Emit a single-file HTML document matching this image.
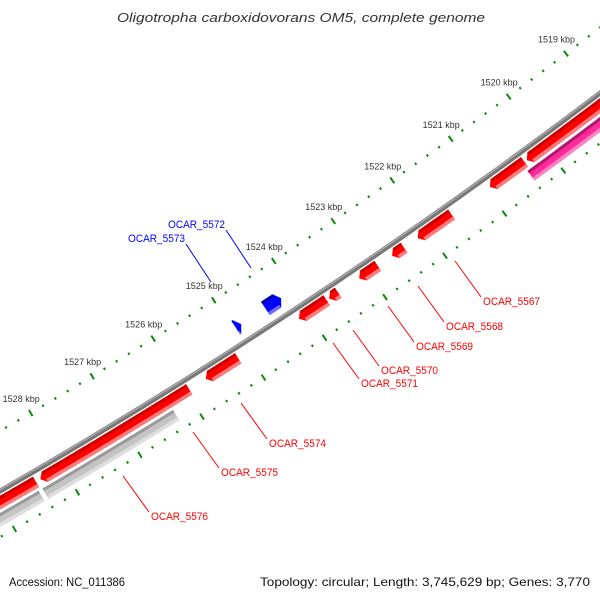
<!DOCTYPE html>
<html><head><meta charset="utf-8"><style>
html,body{margin:0;padding:0;background:#fff;}
svg{display:block;font-family:"Liberation Sans",sans-serif;}
</style></head><body>
<svg id="map" width="600" height="600" viewBox="0 0 600 600" xmlns="http://www.w3.org/2000/svg">
<rect x="0" y="0" width="600" height="600" fill="#fff"/>
<text x="117" y="22" textLength="368" lengthAdjust="spacingAndGlyphs" font-size="13" font-style="italic" fill="#333">Oligotropha carboxidovorans OM5, complete genome</text>
<g id="ticks"></g>
<g id="backbone"></g>
<g id="features"></g>
<g id="labels"></g>
<text x="9" y="586" textLength="116" lengthAdjust="spacingAndGlyphs" font-size="12" fill="#111">Accession: NC_011386</text>
<text x="260" y="586" textLength="330" lengthAdjust="spacingAndGlyphs" font-size="12" fill="#111">Topology: circular; Length: 3,745,629 bp; Genes: 3,770</text>
</svg>
<script>
// data
const kbpTicks = [1519,1520,1521,1522,1523,1524,1525,1526,1527,1528];
const featStart = [1528.42,1525.95,1525.15,1523.69,1523.50,1522.84,1522.40,1521.60,1520.36,1517.0,1526.29,1528.45,1517.0,1524.20,1524.86];
const featEnd   = [1531.0,1528.35,1525.68,1524.15,1523.65,1523.15,1522.60,1522.17,1520.95,1520.32,1528.39,1531.0,1520.40,1524.46,1524.95];
const featStrand= [1,1,1,1,1,1,1,1,1,1,0,0,0,-1,-1];
const featType  = ['red','red','red','red','red','red','red','red','red','red','gray','gray','pink','blue','blue'];
const labelNames = ['OCAR_5567','OCAR_5568','OCAR_5569','OCAR_5570','OCAR_5571','OCAR_5574','OCAR_5575','OCAR_5576','OCAR_5572','OCAR_5573'];
const labelSide  = [1,1,1,1,1,1,1,1,-1,-1];
const labelAnchorX = [455,418,388,353,333,241,193,123,251,211];
const labelAnchorY = [261,286,306,330,343,403,432,476,268,282];

// geometry
const CX=-2782, CY=-4354, R0=5587;
function ang(k){return (56.49+(k-1524)*0.742)*Math.PI/180;}
function pt(k,r){const a=ang(k);return [CX+r*Math.cos(a),CY+r*Math.sin(a)];}
const NS='http://www.w3.org/2000/svg';
function mk(tag,attrs,parent){const e=document.createElementNS(NS,tag);for(const k in attrs)e.setAttribute(k,attrs[k]);parent.appendChild(e);return e;}
function arcPts(k1,k2,r){const n=Math.max(2,Math.ceil(Math.abs(k2-k1)*20));const out=[];for(let i=0;i<=n;i++){out.push(pt(k1+(k2-k1)*i/n,r));}return out;}
function ptsStr(a){return a.map(p=>p[0].toFixed(2)+','+p[1].toFixed(2)).join(' ');}

// ticks
const tg=document.getElementById('ticks');
const tickRows=[5535,5627];
for(const r of tickRows){
  for(let i=0;i<=70;i++){
    const k=1517+i*0.2;
    const major=Math.abs(k-Math.round(k))<1e-6;
    const h=major?3.5:1.2;
    const a=pt(k,r-h),b=pt(k,r+h);
    const t=mk('line',{x1:a[0],y1:a[1],x2:b[0],y2:b[1],stroke:'#0a8a0a','stroke-width':2},tg);
    
    
  }
}
for(const k of kbpTicks){
  const p=pt(k,5535);
  const t=mk('text',{x:p[0]+9,y:p[1]-11,'text-anchor':'end','font-size':'9',fill:'#333'},tg);
  t.textContent=k+' kbp';
  
  
}

// backbone
const bg=document.getElementById('backbone');
const b1=mk('polyline',{points:ptsStr(arcPts(1516,1531,R0)),fill:'none',stroke:'#777','stroke-width':5},bg);


const b2=mk('polyline',{points:ptsStr(arcPts(1516,1531,R0-1.2)),fill:'none',stroke:'#a8a8a8','stroke-width':1.5},bg);



// features
const fg=document.getElementById('features');
const colors={red:['#ff0000','#c80000','#ff7a7a'],blue:['#0000ff','#0000b0','#7070ff'],gray:['#c4c4c4','#9a9a9a','#dedede'],pink:['#ff2a9a','#b01870','#ff80c4']};
function featPoly(s,e,r1,r2,strand){
  const ah=0.07;let pts=[];
  if(strand===1){
    const e2=Math.max(s,e-ah);
    pts=arcPts(s,e2,r1).concat([pt(e,(r1+r2)/2)]).concat(arcPts(e2,s,r2));
  }else if(strand===-1){
    const s2=Math.min(e,s+ah);
    pts=[pt(s,(r1+r2)/2)].concat(arcPts(s2,e,r1)).concat(arcPts(e,s2,r2));
  }else{
    pts=arcPts(s,e,r1).concat(arcPts(e,s,r2));
  }
  return pts;
}
for(let i=0;i<featStart.length;i++){
  let r1,r2;
  if(featStrand[i]===1){r1=R0+4;r2=R0+16;}
  else if(featStrand[i]===-1){r1=R0-25;r2=R0-9;}
  else{r1=R0+19;r2=R0+31;}
  const c=colors[featType[i]];
  const g=mk('g',{},fg);
  
  
  const main=mk('polygon',{points:ptsStr(featPoly(featStart[i],featEnd[i],r1,r2,featStrand[i])),fill:c[0]},g);
  
  
  const dS=featStrand[i]===-1?featStart[i]+0.07:featStart[i];
  const dE=featStrand[i]===1?featEnd[i]-0.07:featEnd[i];
  const dark=mk('polygon',{points:ptsStr(featPoly(dS,dE,r1,r1+3,0)),fill:c[1]},g);
  
  
  const light=mk('polygon',{points:ptsStr(featPoly(dS,dE,r2-3.5,r2,0)),fill:c[2]},g);
  
  
}

// labels
const lg=document.getElementById('labels');
for(let i=0;i<labelNames.length;i++){
  const x1=labelAnchorX[i],y1=labelAnchorY[i];
  const col=labelSide[i]===1?'#ff0000':'#0000ff';
  let x2,y2,tx,ty,anchor;
  if(labelSide[i]===1){x2=x1+26;y2=y1+36;tx=x2+2;ty=y2+8;anchor='start';}
  else{x2=x1-25;y2=y1-38;tx=x2-1;ty=y2-2;anchor='end';}
  const ln=mk('line',{x1:x1,y1:y1,x2:x2,y2:y2,stroke:col,'stroke-width':1},lg);
  
  
  const t=mk('text',{x:tx,y:ty,'text-anchor':anchor,'font-size':'11',fill:col,textLength:'57',lengthAdjust:'spacingAndGlyphs'},lg);
  t.textContent=labelNames[i];
  
  
}
</script>
</body></html>
